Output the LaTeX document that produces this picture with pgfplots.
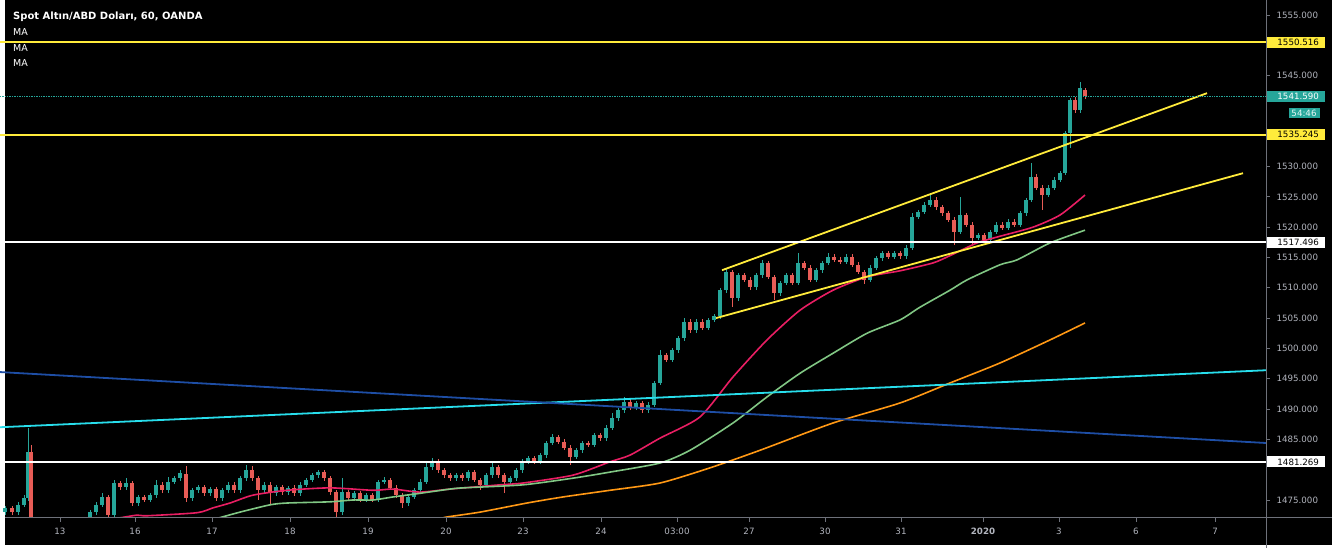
\documentclass[border=0pt]{standalone}
\usepackage{pgfplots}
\pgfplotsset{compat=1.18}
\usepackage{pgfplotstable}
\usepackage{fontspec}
\setmainfont{DejaVu Sans}
\newcommand\tickfont{\fontsize{8.7}{10}\selectfont}
\definecolor{upcol}{RGB}{38,166,154}
\definecolor{dncol}{RGB}{232,92,86}
\definecolor{pinkma}{RGB}{233,30,99}
\definecolor{greenma}{RGB}{129,199,132}
\definecolor{orangema}{RGB}{255,152,20}
\definecolor{cyanl}{RGB}{40,222,236}
\definecolor{bluel}{RGB}{30,78,165}
\definecolor{yell}{RGB}{255,235,59}
\definecolor{tealbox}{RGB}{38,166,154}
\definecolor{tickgray}{RGB}{178,181,190}
\definecolor{axgray}{RGB}{110,113,122}

\pgfplotstableread{
x o h l c
5 1473.0 1474.1 1472.6 1473.7
18 1473.0 1474.6 1472.6 1474.2
24 1474.2 1475.8 1473.8 1475.3
28 1475.3 1486.9 1474.9 1482.9
90 1470.9 1473.4 1470.0 1473.0
96 1473.0 1474.6 1472.6 1474.2
102 1474.2 1476.1 1473.8 1475.5
114 1472.5 1478.3 1472.0 1477.8
126 1477.1 1478.6 1476.7 1477.8
138 1474.5 1475.9 1474.1 1475.5
150 1475.0 1476.2 1474.6 1475.8
156 1475.8 1478.3 1475.4 1477.5
168 1476.6 1478.8 1476.2 1478.0
174 1478.0 1479.0 1477.6 1478.6
180 1478.6 1479.9 1478.2 1479.4
192 1475.3 1477.0 1474.9 1476.6
198 1476.6 1477.5 1476.2 1477.1
210 1476.1 1477.2 1475.7 1476.8
222 1475.3 1477.0 1474.9 1476.6
228 1476.6 1477.9 1476.2 1477.5
240 1476.6 1479.0 1476.2 1478.6
246 1478.6 1480.8 1478.2 1479.9
264 1476.6 1477.9 1476.2 1477.5
276 1476.1 1477.5 1475.7 1477.1
288 1476.3 1477.4 1475.9 1477.0
300 1476.1 1477.9 1475.7 1477.5
306 1477.5 1478.7 1477.1 1478.3
312 1478.3 1479.5 1477.9 1479.1
318 1479.1 1479.9 1478.7 1479.6
342 1473.0 1478.6 1472.6 1476.3
354 1475.3 1476.5 1474.9 1476.1
366 1475.0 1476.2 1474.6 1475.8
378 1475.0 1478.3 1474.6 1478.0
384 1478.0 1478.8 1477.6 1478.3
408 1474.5 1475.9 1474.1 1475.5
414 1475.5 1477.0 1475.1 1476.6
420 1476.6 1478.4 1476.2 1478.0
426 1478.0 1481.1 1477.6 1480.4
432 1480.4 1481.9 1480.0 1481.3
456 1478.6 1479.5 1478.2 1479.1
468 1478.6 1480.0 1478.2 1479.6
486 1477.5 1479.5 1477.1 1479.1
492 1479.1 1481.1 1478.7 1480.4
510 1478.0 1479.0 1477.6 1478.6
516 1478.6 1480.3 1478.2 1479.9
522 1479.9 1481.7 1479.5 1481.3
528 1481.3 1482.3 1480.9 1481.9
540 1481.3 1482.8 1480.9 1482.4
546 1482.4 1484.8 1482.0 1484.4
552 1484.4 1485.9 1484.0 1485.4
576 1482.1 1483.6 1481.7 1483.2
582 1483.2 1484.8 1482.8 1484.4
594 1484.1 1486.1 1483.7 1485.7
606 1485.2 1487.3 1484.8 1486.9
612 1486.9 1489.3 1486.5 1488.5
618 1488.5 1490.2 1488.1 1489.8
624 1489.8 1492.0 1489.4 1491.2
636 1490.3 1491.4 1489.9 1491.0
648 1489.8 1491.1 1489.4 1490.7
654 1490.7 1494.7 1490.3 1494.3
660 1494.3 1499.7 1493.9 1498.9
672 1498.1 1500.1 1497.7 1499.7
678 1499.7 1502.1 1499.3 1501.7
684 1501.7 1505.0 1501.3 1504.4
696 1503.0 1504.8 1502.6 1504.4
708 1503.4 1505.1 1503.0 1504.7
714 1504.7 1505.7 1504.3 1505.3
720 1505.3 1510.0 1504.9 1509.6
726 1509.6 1513.3 1509.2 1512.6
738 1508.3 1512.5 1507.9 1512.1
756 1510.1 1512.5 1509.7 1512.1
762 1512.1 1514.6 1511.7 1514.1
780 1509.1 1511.2 1508.7 1510.8
786 1510.8 1512.5 1510.4 1512.1
798 1510.8 1515.7 1510.4 1514.1
816 1511.3 1513.3 1510.9 1512.9
822 1512.9 1514.5 1512.5 1514.1
828 1514.1 1515.7 1513.7 1515.1
846 1514.3 1515.5 1513.9 1515.1
870 1511.3 1513.7 1510.9 1513.3
876 1513.3 1515.3 1512.9 1514.9
882 1514.9 1516.1 1514.5 1515.7
894 1515.1 1516.1 1514.7 1515.7
906 1515.2 1517.0 1514.8 1516.6
912 1516.6 1522.3 1516.2 1521.7
918 1521.7 1522.9 1521.3 1522.5
924 1522.5 1524.1 1522.1 1523.7
930 1523.7 1525.6 1523.3 1524.5
960 1519.2 1525.0 1518.8 1522.0
978 1518.2 1519.1 1517.8 1518.7
990 1517.9 1519.6 1517.5 1519.2
996 1519.2 1520.8 1518.8 1520.4
1008 1519.9 1521.3 1519.5 1520.9
1020 1520.4 1522.7 1520.0 1522.3
1026 1522.3 1524.9 1521.9 1524.5
1031 1524.5 1530.6 1524.1 1528.3
1048 1525.3 1526.9 1524.9 1526.5
1054 1526.5 1528.2 1526.1 1527.8
1060 1527.8 1529.3 1527.4 1528.9
1065 1528.9 1535.9 1528.6 1535.5
1070 1535.5 1541.3 1533.1 1541.0
1080 1539.3 1543.9 1538.9 1542.9
}\upcandles

\pgfplotstableread{
x o h l c
12 1473.7 1474.1 1472.6 1473.0
31 1482.9 1484.1 1468.4 1470.0
108 1475.5 1475.9 1472.0 1472.5
120 1477.8 1478.2 1476.7 1477.1
132 1477.8 1478.2 1474.0 1474.5
144 1475.5 1475.9 1474.6 1475.0
162 1477.5 1477.9 1476.2 1476.6
186 1479.3 1480.6 1474.7 1475.3
204 1477.1 1477.5 1475.7 1476.1
216 1476.8 1477.2 1474.9 1475.3
234 1477.5 1477.9 1476.2 1476.6
252 1479.9 1480.6 1478.2 1478.6
258 1478.6 1479.0 1475.0 1476.6
270 1477.5 1477.9 1474.2 1476.1
282 1477.1 1477.5 1475.9 1476.3
294 1477.0 1477.4 1475.7 1476.1
324 1479.6 1480.0 1478.2 1478.6
330 1478.6 1479.0 1475.9 1476.3
336 1476.3 1476.7 1472.0 1473.0
348 1476.3 1476.7 1474.9 1475.3
360 1476.1 1476.5 1474.6 1475.0
372 1475.8 1476.2 1474.6 1475.0
390 1478.3 1478.7 1476.6 1477.0
396 1477.0 1477.4 1475.4 1475.8
402 1475.8 1476.2 1473.7 1474.5
438 1481.3 1481.7 1479.5 1479.9
444 1479.9 1480.3 1478.7 1479.1
450 1479.1 1479.5 1478.2 1478.6
462 1479.1 1479.5 1478.2 1478.6
474 1479.6 1480.0 1477.9 1478.3
480 1478.3 1478.7 1476.6 1477.5
498 1480.4 1480.8 1478.7 1479.1
504 1479.1 1479.5 1476.1 1478.0
534 1481.9 1482.3 1480.9 1481.3
558 1485.4 1485.8 1484.2 1484.6
564 1484.6 1485.0 1483.2 1483.6
570 1483.6 1484.0 1480.8 1482.1
588 1484.4 1484.8 1483.7 1484.1
600 1485.7 1486.1 1484.8 1485.2
630 1491.2 1491.6 1489.9 1490.3
642 1491.0 1491.4 1489.3 1489.8
666 1498.9 1499.3 1497.7 1498.1
690 1504.4 1504.8 1502.6 1503.0
702 1504.4 1504.8 1503.0 1503.4
732 1512.6 1513.0 1506.8 1508.3
744 1512.1 1512.5 1510.9 1511.3
750 1511.3 1511.7 1509.7 1510.1
768 1514.1 1514.5 1511.4 1511.8
774 1511.8 1512.2 1508.0 1509.1
792 1512.1 1512.5 1510.4 1510.8
804 1514.1 1514.5 1512.9 1513.3
810 1513.3 1513.7 1510.9 1511.3
834 1515.1 1515.5 1514.2 1514.6
840 1514.6 1515.0 1513.9 1514.3
852 1515.1 1515.5 1513.4 1513.8
858 1513.8 1514.2 1512.2 1512.6
864 1512.6 1513.0 1510.6 1511.3
888 1515.7 1516.1 1514.7 1515.1
900 1515.7 1516.1 1514.8 1515.2
936 1524.5 1524.9 1522.9 1523.3
942 1523.3 1523.7 1521.9 1522.3
948 1522.3 1522.7 1520.8 1521.2
954 1521.2 1521.6 1517.1 1519.2
966 1522.0 1522.4 1520.0 1520.4
972 1520.4 1520.8 1517.1 1518.2
984 1518.7 1519.1 1517.5 1517.9
1002 1520.4 1520.8 1519.5 1519.9
1014 1520.9 1521.3 1520.0 1520.4
1036 1528.3 1528.7 1526.1 1526.5
1042 1526.5 1526.9 1522.8 1525.3
1075 1541.0 1541.4 1538.8 1539.3
1085 1542.6 1542.9 1541.2 1541.6
}\downcandles

\begin{document}
\begin{tikzpicture}[x=1pt,y=1pt]
\useasboundingbox (0,0) rectangle (1332,548);
\fill[white] (0,0) rectangle (1332,548);
\fill[black] (5,3) rectangle (1332,548);
\begin{axis}[
  at={(0pt,30pt)}, anchor=south west, scale only axis,
  width=1266pt, height=518pt,
  xmin=0, xmax=1266, ymin=1472.03, ymax=1557.47,
  enlargelimits=false, clip=true,
  axis line style={draw=none},
  scaled y ticks=false,
  xtick={60,135,212,290,368,446,523,601,677,749,825,901,983,1059,1136,1215},
  xticklabels={13,16,17,18,19,20,23,24,03:00,27,30,31,\textbf{2020},3,6,7},
  ytick={1475,1485,1490,1495,1500,1505,1510,1515,1520,1525,1530,1545,1555},
  xtick pos=left, ytick pos=right, yticklabel pos=right,
  tick align=outside, major tick length=4pt,
  tick style={draw=axgray, line width=0.8pt},
  ticklabel style={font=\tickfont, text=tickgray},
  yticklabel style={/pgf/number format/.cd, fixed, fixed zerofill, precision=3, set thousands separator={}, assume math mode=true, /tikz/.cd, xshift=3pt},
  xticklabel style={yshift=-3pt},
]
% wicks
\addplot[draw=none, mark=none, forget plot, error bars/.cd, y dir=both, y explicit, error mark=none, error bar style={draw=upcol, line width=1pt}]
  table[x=x, y expr={(\thisrow{h}+\thisrow{l})/2}, y error expr={(\thisrow{h}-\thisrow{l})/2}] {\upcandles};
\addplot[draw=none, mark=none, forget plot, error bars/.cd, y dir=both, y explicit, error mark=none, error bar style={draw=dncol, line width=1pt}]
  table[x=x, y expr={(\thisrow{h}+\thisrow{l})/2}, y error expr={(\thisrow{h}-\thisrow{l})/2}] {\downcandles};
% bodies
\addplot[draw=none, mark=none, forget plot, error bars/.cd, y dir=both, y explicit, error mark=none, error bar style={draw=upcol, line width=4pt}]
  table[x=x, y expr={(\thisrow{o}+\thisrow{c})/2}, y error expr={abs(\thisrow{c}-\thisrow{o})/2}] {\upcandles};
\addplot[draw=none, mark=none, forget plot, error bars/.cd, y dir=both, y explicit, error mark=none, error bar style={draw=dncol, line width=4pt}]
  table[x=x, y expr={(\thisrow{o}+\thisrow{c})/2}, y error expr={abs(\thisrow{c}-\thisrow{o})/2}] {\downcandles};
% moving averages
\addplot[pinkma, line width=1.6pt, smooth, tension=0.4] coordinates {
(118,1472.0) (137,1472.5) (147,1472.4) (197,1472.9) (213,1473.7) (230,1474.5) (253,1475.8) (287,1476.6) (330,1477.0) (373,1476.6) (393,1476.8) (420,1476.3) (450,1476.8) (500,1477.5) (523,1477.8) (573,1479.1) (610,1481.3) (630,1482.4) (660,1485.2) (700,1488.7) (733,1495.3) (767,1501.4) (800,1506.3) (833,1509.6) (867,1511.8) (900,1512.8) (933,1514.1) (950,1515.3) (977,1517.4) (1000,1518.5) (1033,1520.0) (1060,1522.0) (1085,1525.3)};
\addplot[greenma, line width=1.6pt, smooth, tension=0.4] coordinates {
(218,1472.0) (240,1473.0) (270,1474.2) (287,1474.5) (330,1474.7) (353,1475.0) (373,1475.0) (393,1475.5) (420,1476.1) (450,1476.8) (463,1477.0) (523,1477.5) (573,1478.6) (610,1479.6) (660,1481.1) (690,1483.2) (733,1487.7) (767,1492.0) (800,1495.9) (833,1499.2) (867,1502.5) (900,1504.7) (920,1506.8) (950,1509.6) (967,1511.3) (1000,1513.8) (1017,1514.6) (1050,1517.4) (1085,1519.5)};
\addplot[orangema, line width=1.6pt, smooth, tension=0.4] coordinates {
(440,1471.9) (447,1472.2) (480,1473.0) (527,1474.5) (563,1475.5) (610,1476.6) (660,1477.8) (710,1480.3) (760,1483.2) (833,1487.7) (900,1491.0) (950,1494.3) (1000,1497.6) (1050,1501.4) (1085,1504.2)};
% trend lines
\addplot[cyanl, line width=1.8pt] coordinates {(0,1487.0) (1266,1496.4)};
\addplot[bluel, line width=1.8pt] coordinates {(0,1496.1) (1266,1484.4)};
\addplot[yell, line width=1.8pt] coordinates {(722,1512.9) (1207,1542.1)};
\addplot[yell, line width=1.8pt] coordinates {(716,1505.0) (1243,1528.9)};
% horizontal levels
\addplot[yell, line width=1.8pt] coordinates {(0,1550.516) (1266,1550.516)};
\addplot[yell, line width=1.8pt] coordinates {(0,1535.245) (1266,1535.245)};
\addplot[white, line width=1.8pt] coordinates {(0,1517.496) (1266,1517.496)};
\addplot[white, line width=1.8pt] coordinates {(0,1481.269) (1266,1481.269)};
\addplot[upcol, line width=0.7pt, densely dotted] coordinates {(0,1541.59) (1266,1541.59)};
\coordinate (pA) at (axis cs:1266,1550.516);
\coordinate (pB) at (axis cs:1266,1541.59);
\coordinate (pC) at (axis cs:1304,1538.8);
\coordinate (pD) at (axis cs:1266,1535.245);
\coordinate (pE) at (axis cs:1266,1517.496);
\coordinate (pF) at (axis cs:1266,1481.269);
\end{axis}
\draw[axgray, line width=1pt] (1266,0) -- (1266,548);
\draw[axgray, line width=1pt] (5,30) -- (1332,30);
\tikzset{lbl/.style={anchor=west, minimum width=58pt, minimum height=11pt, inner sep=0pt, font=\tickfont, xshift=1pt}}
\node[lbl, fill=yell, text=black] at (pA) {\hspace{4pt}1550.516};
\node[lbl, fill=tealbox, text=white] at (pB) {\hspace{4pt}1541.590};
\node[fill=tealbox, text=white!90!tealbox, minimum width=31pt, minimum height=10.5pt, inner sep=0pt, font=\tickfont] at (pC) {54:46};
\node[lbl, fill=yell, text=black] at (pD) {\hspace{4pt}1535.245};
\node[lbl, fill=white, text=black] at (pE) {\hspace{4pt}1517.496};
\node[lbl, fill=white, text=black] at (pF) {\hspace{4pt}1481.269};
\node[anchor=base west, text=white, font=\bfseries\fontsize{10}{12}\selectfont, inner sep=0pt] at (13,528) {Spot Altın/ABD Doları, 60, OANDA};
\node[anchor=base west, text=white, font=\fontsize{9.5}{11}\selectfont, inner sep=0pt] at (13,512) {MA};
\node[anchor=base west, text=white, font=\fontsize{9.5}{11}\selectfont, inner sep=0pt] at (13,496) {MA};
\node[anchor=base west, text=white, font=\fontsize{9.5}{11}\selectfont, inner sep=0pt] at (13,481) {MA};
\end{tikzpicture}
\end{document}
